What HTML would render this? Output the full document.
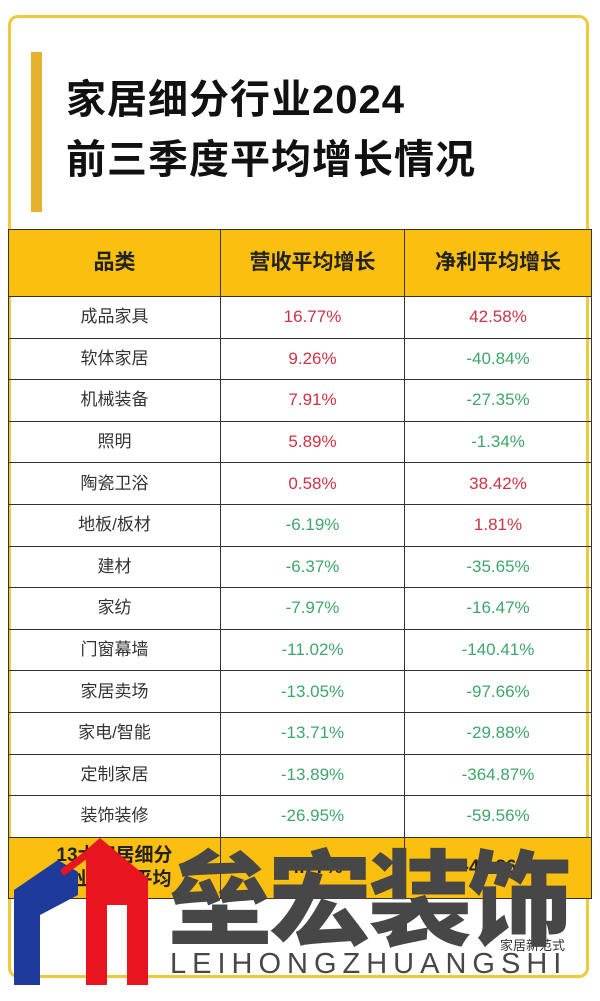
<!DOCTYPE html>
<html><head><meta charset="utf-8"><style>
body{margin:0;width:600px;height:1001px;background:#fff;position:relative;overflow:hidden;font-family:"Liberation Sans","Noto Sans CJK SC",sans-serif;}
.card{position:absolute;left:8px;top:15px;width:581px;height:963px;border:3px solid #f0c93a;border-radius:10px;box-sizing:border-box;}
.bar{position:absolute;left:31px;top:52px;width:11px;height:160px;background:#e6b22e;}
.t{position:absolute;left:66px;font-size:40px;font-weight:bold;color:#111;letter-spacing:1px;line-height:48px;}
table{position:absolute;left:8px;top:229px;width:584px;border-collapse:collapse;}
td{border:1.5px solid #333;text-align:center;font-size:17px;padding:0;color:#333;line-height:20px;}
tr.d td{height:40.6px}
tr.h td{background:#fbbf10;height:66px;font-weight:bold;font-size:21px;color:#222;}
td.c1{width:211px}td.c2{width:183px}
.r{color:#cc3344}.g{color:#3fa66a}
tr.s td{background:#fbbf10;height:60px;font-weight:bold;font-size:19px;color:#222;line-height:24px}
.big{position:absolute;left:168px;top:832px;font-size:104px;font-weight:900;color:#474747;letter-spacing:-4px;font-family:"Noto Sans CJK SC",sans-serif;line-height:120px}
.en{position:absolute;left:170px;top:948px;font-size:29px;color:#474747;letter-spacing:6px;}
</style></head><body>
<div class="card"></div>
<div class="bar"></div>
<div class="t" style="top:76px">家居细分行业2024</div>
<div class="t" style="top:136px">前三季度平均增长情况</div>
<table>
<tr class="h"><td class="c1">品类</td><td class="c2">营收平均增长</td><td>净利平均增长</td></tr>
<tr class="d"><td>成品家具</td><td class="r">16.77%</td><td class="r">42.58%</td></tr>
<tr class="d"><td>软体家居</td><td class="r">9.26%</td><td class="g">-40.84%</td></tr>
<tr class="d"><td>机械装备</td><td class="r">7.91%</td><td class="g">-27.35%</td></tr>
<tr class="d"><td>照明</td><td class="r">5.89%</td><td class="g">-1.34%</td></tr>
<tr class="d"><td>陶瓷卫浴</td><td class="r">0.58%</td><td class="r">38.42%</td></tr>
<tr class="d"><td>地板/板材</td><td class="g">-6.19%</td><td class="r">1.81%</td></tr>
<tr class="d"><td>建材</td><td class="g">-6.37%</td><td class="g">-35.65%</td></tr>
<tr class="d"><td>家纺</td><td class="g">-7.97%</td><td class="g">-16.47%</td></tr>
<tr class="d"><td>门窗幕墙</td><td class="g">-11.02%</td><td class="g">-140.41%</td></tr>
<tr class="d"><td>家居卖场</td><td class="g">-13.05%</td><td class="g">-97.66%</td></tr>
<tr class="d"><td>家电/智能</td><td class="g">-13.71%</td><td class="g">-29.88%</td></tr>
<tr class="d"><td>定制家居</td><td class="g">-13.89%</td><td class="g">-364.87%</td></tr>
<tr class="d"><td>装饰装修</td><td class="g">-26.95%</td><td class="g">-59.56%</td></tr>
<tr class="s"><td>13大家居细分<br>行业整体平均</td><td>-4.77%</td><td>-48.86%</td></tr>
</table>
<div style="position:absolute;left:500px;top:935px;font-size:13px;color:#333">家居新范式</div>
<svg style="position:absolute;left:0;top:830px" width="160" height="171">
<polygon points="14,155 14,60 58,30 78,42 78,65 40,85 40,155" fill="#1e3a9a"/>
<polygon points="86,155 86,20 100,8 148,48 148,155 127,155 127,75 107,75 107,155" fill="#e8141f"/>
<polygon points="60,40 100,10 104,16 64,46" fill="#e8141f"/>
</svg>
<div class="big">垒宏装饰</div>
<div class="en">LEIHONGZHUANGSHI</div>
</body></html>
